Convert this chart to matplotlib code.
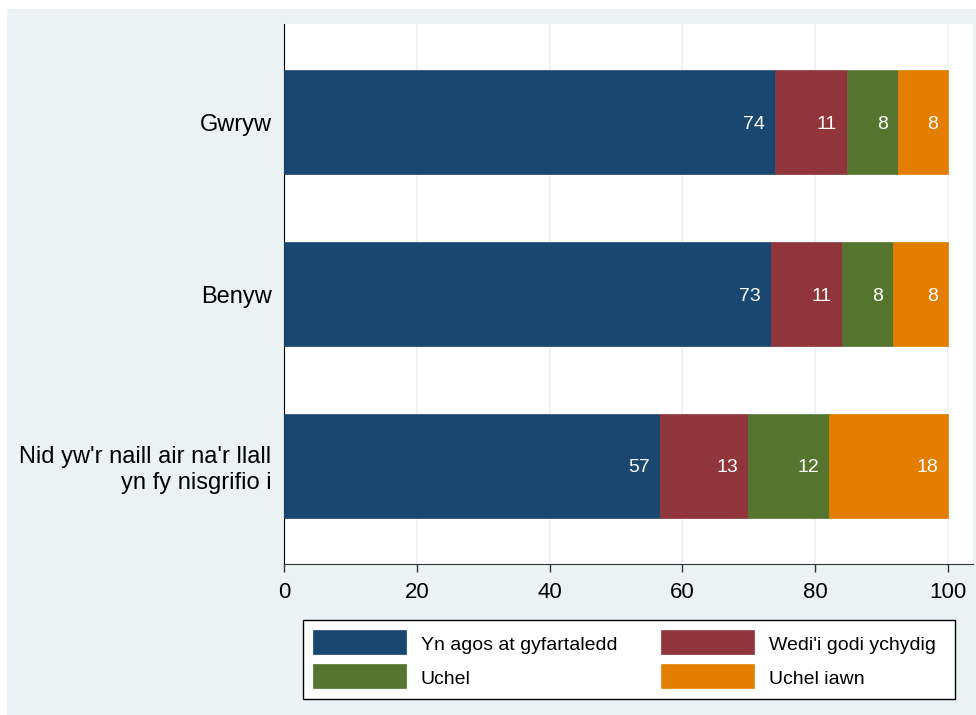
import matplotlib
matplotlib.use("Agg")
import matplotlib.pyplot as plt
from matplotlib.patches import Rectangle
import numpy as np

plt.rcParams['font.family'] = ['Liberation Sans', 'DejaVu Sans']

categories = ["Gwryw", "Benyw", "Nid yw'r naill air na'r llall\nyn fy nisgrifio i"]
series_names = ["Yn agos at gyfartaledd", "Wedi'i godi ychydig", "Uchel", "Uchel iawn"]
values = {
    "Yn agos at gyfartaledd": [73.9, 73.3, 56.6],
    "Wedi'i godi ychydig": [10.9, 10.7, 13.3],
    "Uchel": [7.7, 7.7, 12.2],
    "Uchel iawn": [7.5, 8.3, 17.9],
}
labels = {
    "Yn agos at gyfartaledd": ["74", "73", "57"],
    "Wedi'i godi ychydig": ["11", "11", "13"],
    "Uchel": ["8", "8", "12"],
    "Uchel iawn": ["8", "8", "18"],
}
colors = ["#1A476F", "#90353B", "#55752F", "#E37E00"]
xticks = [0, 20, 40, 60, 80, 100]

bg = "#EAF2F3"
W, H = 976, 715
def fx(px): return px / W
def fy(py): return 1 - py / H

fig = plt.figure(figsize=(9.76, 7.15), dpi=100)
fig.patch.set_facecolor("white")
fig.patches.append(Rectangle((fx(7), 0), 1 - fx(7), fy(9), transform=fig.transFigure,
                             facecolor=bg, edgecolor="none", zorder=-10))

ax = fig.add_axes([fx(284), fy(564), fx(973) - fx(284), fy(24) - fy(564)])
ax.set_facecolor("white")
y = np.arange(len(categories))
left = np.zeros(len(categories))
for name, c in zip(series_names, colors):
    v = np.array(values[name])
    ax.barh(y, v, left=left, height=0.6, color=c, edgecolor=c, linewidth=0.5, zorder=3, label=name)
    for yi, (l, w, t) in enumerate(zip(left, v, labels[name])):
        ax.text(l + w - 1.5, yi, t, ha="right", va="center_baseline", color="white", fontsize=14, zorder=4)
    left = left + v

ax.set_xlim(0, 103.8)
ax.set_ylim(len(categories) - 1 + 0.57, -0.57)
ax.set_xticks(xticks)
ax.set_xticklabels([str(t) for t in xticks], fontsize=16)
ax.set_yticks(y)
ax.set_yticklabels(categories, fontsize=17, linespacing=1.2)
ax.tick_params(axis="y", length=0, pad=9)
ax.tick_params(axis="x", length=6, width=1, color="#333333", pad=7)
ax.grid(axis="x", color=bg, linewidth=1.2, zorder=0)
for s in ["top", "right"]:
    ax.spines[s].set_visible(False)
ax.spines["left"].set_color("black")
ax.spines["bottom"].set_color("#333333")

# legend drawn by hand, row-wise order as in the reference
fig.patches.append(Rectangle((fx(303), fy(699)), fx(955) - fx(303), fy(620) - fy(699),
                             transform=fig.transFigure, facecolor="white", edgecolor="black",
                             linewidth=1.0, zorder=5))
col_x = [313, 661]
row_y = [630, 664]
for i, (name, c) in enumerate(zip(series_names, colors)):
    r, k = divmod(i, 2)
    x0, y0 = col_x[k], row_y[r]
    fig.patches.append(Rectangle((fx(x0), fy(y0 + 24)), fx(x0 + 93) - fx(x0), fy(y0) - fy(y0 + 24),
                                 transform=fig.transFigure, facecolor=c, edgecolor=c,
                                 linewidth=0.5, zorder=6))
    fig.text(fx(x0 + 108), fy(y0 + 13), name, ha="left", va="center_baseline", fontsize=14,
             color="black", zorder=7)

fig.savefig("out.png", dpi=100, facecolor=fig.get_facecolor())
